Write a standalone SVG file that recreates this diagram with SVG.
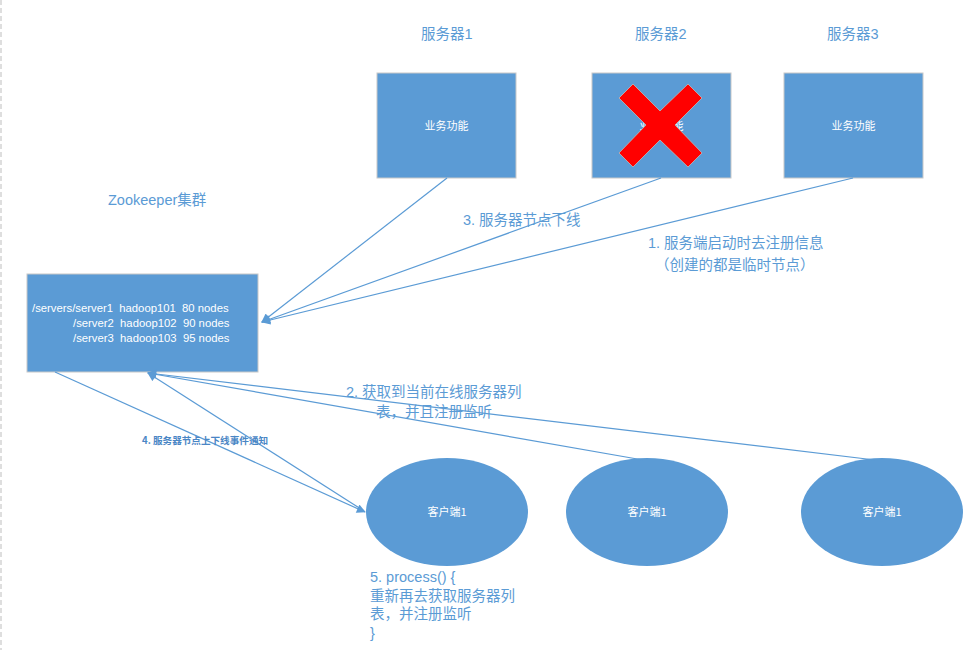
<svg xmlns="http://www.w3.org/2000/svg" width="977" height="650" viewBox="0 0 977 650">
<style>
.box{fill:#5b9bd5;stroke:#c8c8c8;stroke-width:1}
.ell{fill:#5b9bd5}
.wt{fill:#ffffff;font-family:"Noto Sans CJK SC","Liberation Sans",sans-serif;font-size:11px}
.lbl{fill:#5b9bd5;font-family:"Liberation Sans","Noto Sans CJK SC",sans-serif;font-size:14.5px}
.mono{fill:#ffffff;font-family:"Liberation Sans","Noto Sans CJK SC",sans-serif;font-size:11.3px}
.con{stroke:#5b9bd5;stroke-width:1.2;fill:none}
</style>
<defs>
<marker id="arr" viewBox="0 0 10 10" refX="9" refY="5" markerWidth="10" markerHeight="9" markerUnits="userSpaceOnUse" orient="auto">
<path d="M0,0 L10,5 L0,10 Z" fill="#5b9bd5"/>
</marker>
</defs>
<rect width="977" height="650" fill="#ffffff"/>
<line x1="1" y1="0" x2="1" y2="650" stroke="#d4d4d4" stroke-width="1.5" stroke-dasharray="5 3"/>

<text class="lbl" x="421" y="39">服务器1</text>
<text class="lbl" x="635" y="39">服务器2</text>
<text class="lbl" x="827" y="39">服务器3</text>

<g id="server1">
<rect class="box" x="377" y="73" width="139" height="105"/>
<text class="wt" x="446.5" y="130" text-anchor="middle">业务功能</text>
</g>
<g id="server2">
<rect class="box" x="592" y="73" width="139" height="105"/>
<text class="wt" x="661.5" y="130" text-anchor="middle">业务功能</text>
<polygon points="633,84 660,111 688,84 702,98 675,125 702,153 688,167 660,140 633,167 619,153 646,125 619,98" fill="#ff0000" stroke="#bbbbbb" stroke-width="0.8"/>
</g>
<g id="server3">
<rect class="box" x="784" y="73" width="139" height="105"/>
<text class="wt" x="853.5" y="130" text-anchor="middle">业务功能</text>
</g>

<text class="lbl" x="108" y="205">Zookeeper集群</text>

<g id="zookeeper">
<rect class="box" x="27" y="274" width="231" height="98"/>
<text class="mono" x="32" y="312" xml:space="preserve">/servers/server1  hadoop101  80 nodes</text>
<text class="mono" x="73" y="327" xml:space="preserve">/server2  hadoop102  90 nodes</text>
<text class="mono" x="73" y="342" xml:space="preserve">/server3  hadoop103  95 nodes</text>
</g>

<g id="client1">
<ellipse class="ell" cx="447" cy="512" rx="81" ry="54"/>
<text class="wt" x="447" y="516" text-anchor="middle">客户端1</text>
</g>
<g id="client2">
<ellipse class="ell" cx="647" cy="512" rx="81" ry="54"/>
<text class="wt" x="647" y="516" text-anchor="middle">客户端1</text>
</g>
<g id="client3">
<ellipse class="ell" cx="882" cy="512" rx="81" ry="54"/>
<text class="wt" x="882" y="516" text-anchor="middle">客户端1</text>
</g>

<g id="connectors">
<line class="con" x1="447" y1="178" x2="262" y2="322" marker-end="url(#arr)"/>
<line class="con" x1="661" y1="178" x2="262" y2="322" marker-end="url(#arr)"/>
<line class="con" x1="853" y1="178" x2="262" y2="322" marker-end="url(#arr)"/>
<line class="con" x1="643" y1="460" x2="148" y2="373" marker-end="url(#arr)"/>
<line class="con" x1="875" y1="460" x2="148" y2="373" marker-end="url(#arr)"/>
<line class="con" x1="364" y1="511" x2="148" y2="373" marker-end="url(#arr)"/>
<line class="con" x1="55" y1="372" x2="365" y2="512" marker-end="url(#arr)"/>
</g>

<text class="lbl" x="463" y="225">3. 服务器节点下线</text>
<text class="lbl" x="648" y="248">1. 服务端启动时去注册信息</text>
<text class="lbl" x="655" y="270">（创建的都是临时节点）</text>
<text class="lbl" x="346" y="397">2. 获取到当前在线服务器列</text>
<text class="lbl" x="376" y="417">表，并且注册监听</text>
<text x="142" y="444" fill="#4a86c5" font-family="Noto Sans CJK SC,Liberation Sans,sans-serif" font-size="9.6" font-weight="bold">4. 服务器节点上下线事件通知</text>
<text class="lbl" x="370" y="582">5. process() {</text>
<text class="lbl" x="370" y="601">重新再去获取服务器列</text>
<text class="lbl" x="370" y="619">表，并注册监听</text>
<text class="lbl" x="370" y="638">}</text>
</svg>
